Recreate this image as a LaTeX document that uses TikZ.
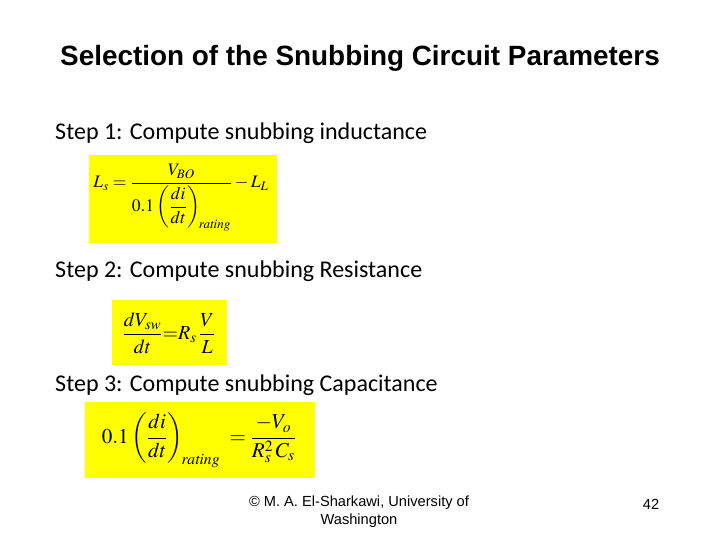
\documentclass[tikz,border=0pt]{standalone}
\usepackage{amsmath}
\usepackage{mathptmx}
\usepackage{fontspec}
\setmainfont{Carlito}
\newfontfamily\arial{Liberation Sans}
\definecolor{hl}{RGB}{255,255,0}
\begin{document}
\begin{tikzpicture}[x=0.03cm,y=-0.03cm,
  eq/.style={inner sep=0},
  step label/.style={anchor=west,font=\fontsize{20.5}{24}\selectfont,inner sep=0}]
\useasboundingbox (0,0) rectangle (720,540);
\node[font=\arial\bfseries\fontsize{23.8}{28}\selectfont] (title) at (360,58) {Selection of the Snubbing Circuit Parameters};
\node[step label] (s1) at (55,133) {Step 1: Compute snubbing inductance};
\fill[hl] (89,155) rectangle (277,243);
\node[eq] (e1) at (181,198) {\fontsize{15}{17}\selectfont$L_s=\dfrac{V_{BO}}{0.1\left(\dfrac{di}{dt}\right)_{\!\mathit{rating}}}-L_L$};
\node[step label] (s2) at (55,271) {Step 2: Compute snubbing Resistance};
\fill[hl] (112,300) rectangle (227,365);
\node[eq] (e2) at (169,333) {\fontsize{17}{19}\selectfont$\dfrac{dV_{sw}}{dt}{=}R_s\,\dfrac{V}{L}$};
\node[step label] (s3) at (55,385) {Step 3: Compute snubbing Capacitance};
\fill[hl] (85,402) rectangle (315,478);
\node[eq] (e3) at (199,440) {\fontsize{18}{20}\selectfont$0.1\left(\dfrac{di}{dt}\right)_{\!\mathit{rating}}\;=\dfrac{-V_o}{R_s^2\,C_s}$};
\node[font=\arial\fontsize{12.5}{15}\selectfont,align=center] (f) at (359,512) {© M. A. El-Sharkawi, University of\\Washington};
\node[font=\arial\fontsize{12.5}{15}\selectfont] (n) at (651,504) {42};
\end{tikzpicture}
\end{document}
